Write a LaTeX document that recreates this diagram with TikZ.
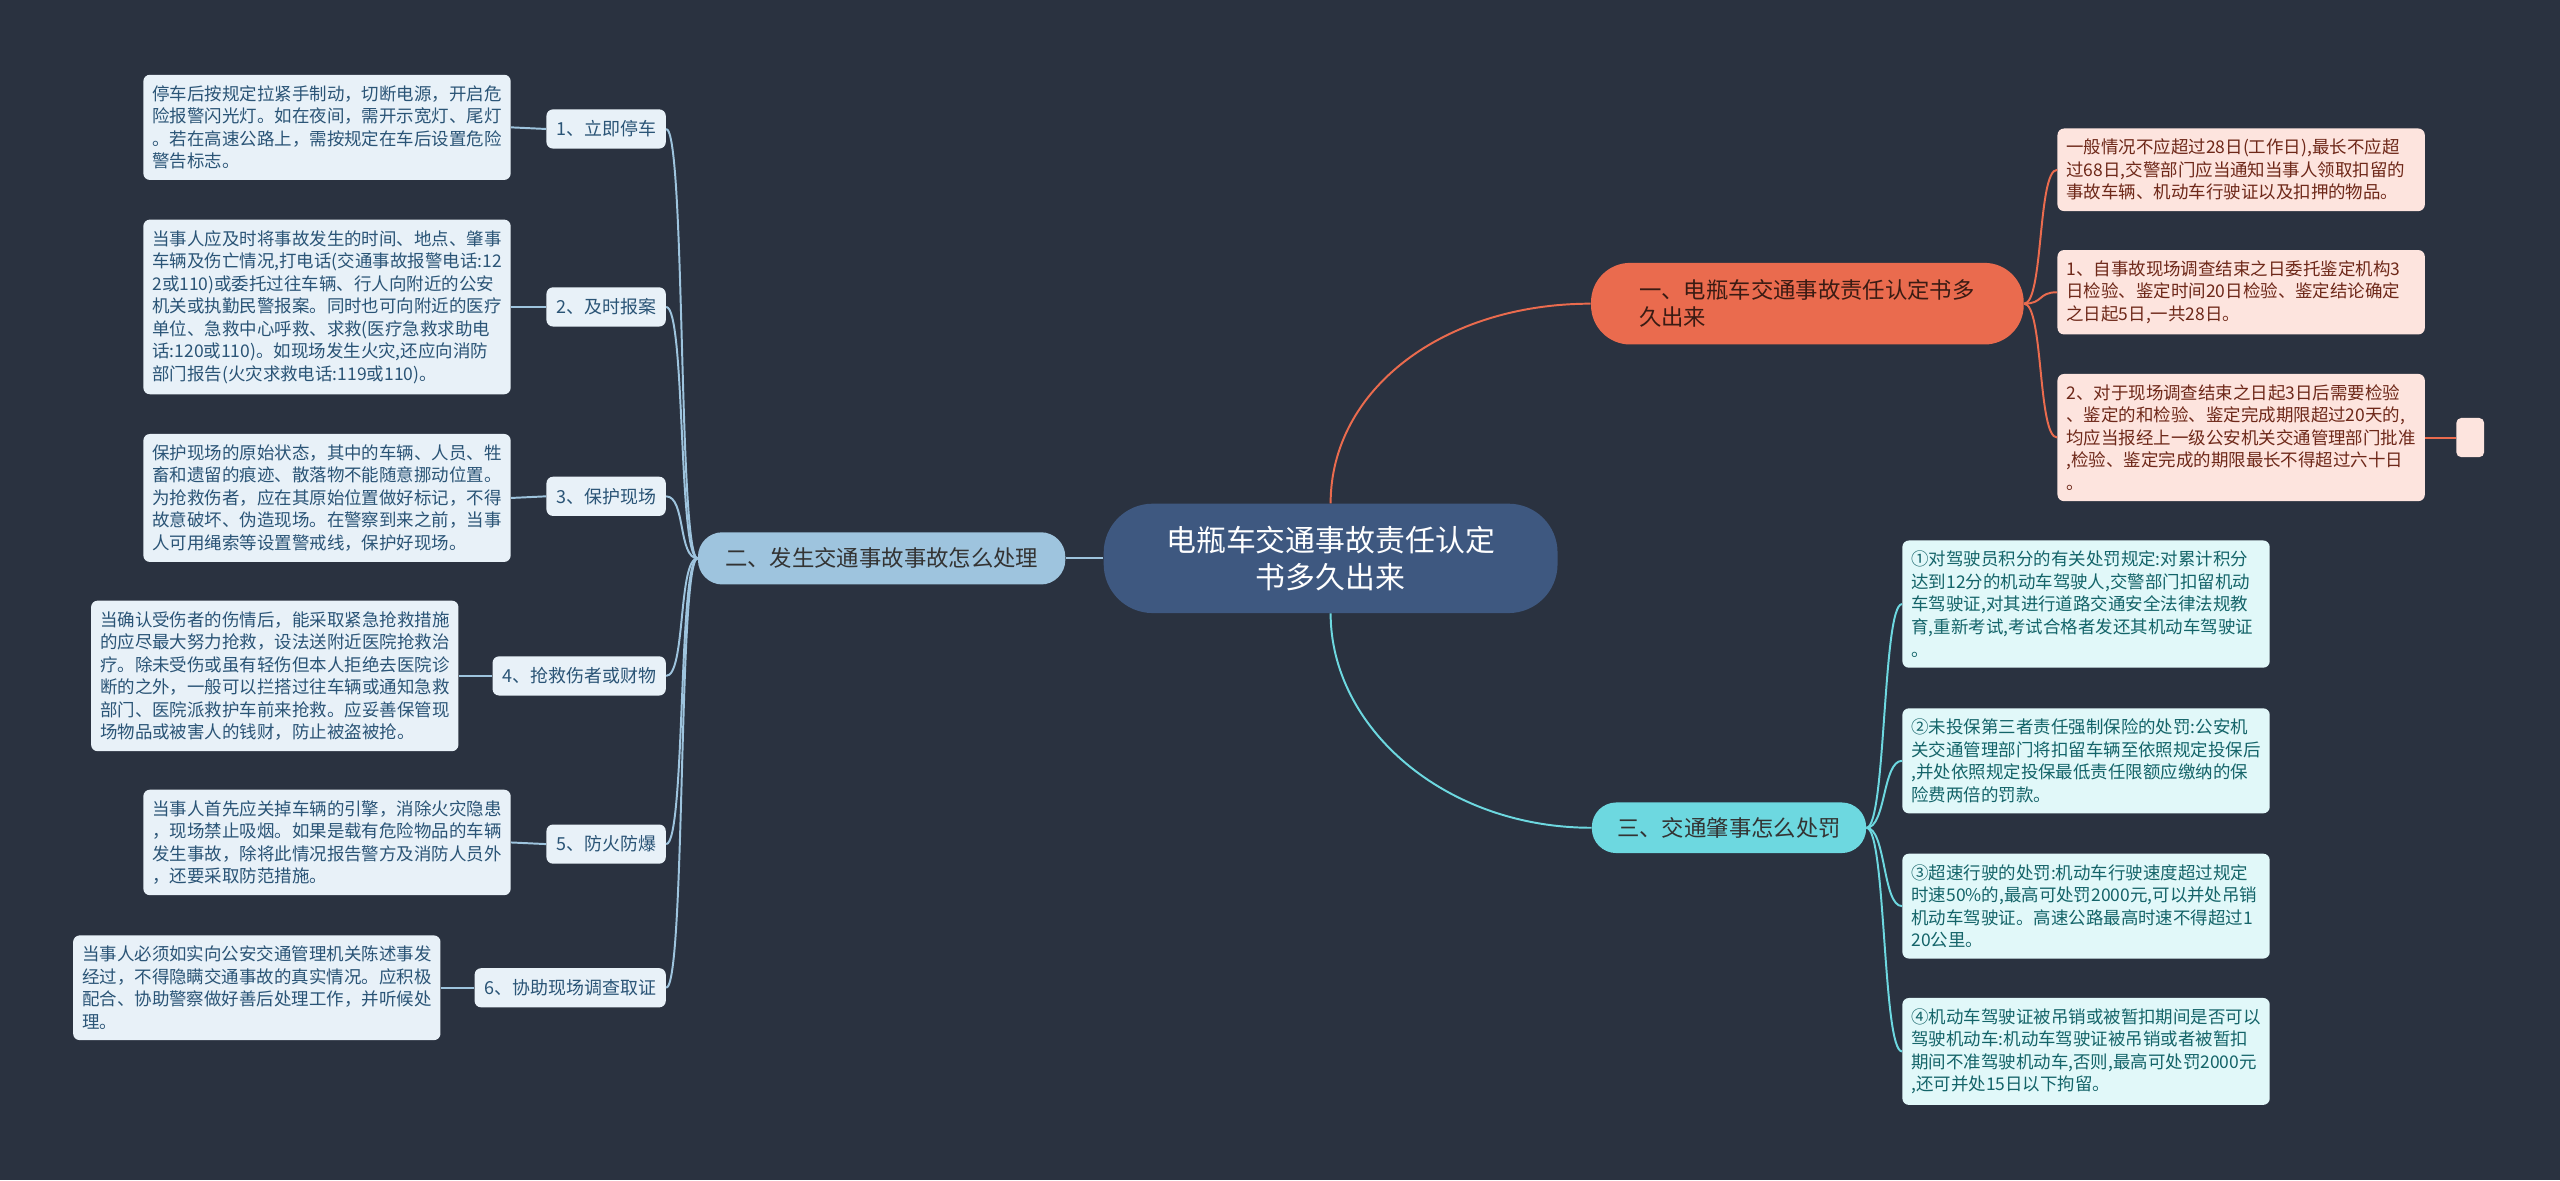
\documentclass[tikz,border=0pt]{standalone}
\usepackage{fontspec}
\setmainfont{Noto Sans CJK SC}
\usepackage{tikz}

\definecolor{bgcol}{HTML}{2A3240}
\definecolor{rootcol}{HTML}{3E5880}
\definecolor{leftcol}{HTML}{9EC4DE}
\definecolor{leftleaf}{HTML}{E8F1F8}
\definecolor{lefttext}{HTML}{2A5476}
\definecolor{redcol}{HTML}{EA6B4E}
\definecolor{redleaf}{HTML}{FDE4DE}
\definecolor{redtext}{HTML}{6E2819}
\definecolor{cyancol}{HTML}{6DD8E0}
\definecolor{cyanleaf}{HTML}{E1F8F9}
\definecolor{cyantext}{HTML}{146469}

\begin{document}
\begin{tikzpicture}[x=1pt,y=-1pt,
    leaf/.style={rounded corners=4pt, align=left, text width=214pt,
        inner xsep=5.5pt, inner ysep=6.5pt, font=\fontsize{10.7}{13.8}\selectfont},
    sub/.style={rounded corners=4pt, fill=leftleaf, text=lefttext,
        inner xsep=6pt, minimum height=24pt, font=\fontsize{11}{13}\selectfont},
    branch/.style={rounded corners=15pt, inner xsep=0pt,
        font=\fontsize{13.7}{16.3}\selectfont},
    link/.style={line width=1.2pt}]

    % Background
    \fill[bgcol] (0,0) rectangle (1568,723);

    % Central topic and main branches
    \node[rounded corners=30pt, fill=rootcol, text=white, align=center,
        minimum width=278pt, minimum height=67pt,
        font=\fontsize{18.3}{22.5}\selectfont] (root) at (815,342)
        {电瓶车交通事故责任认定\\书多久出来};
    \node[branch, fill=leftcol, text=black!80, minimum width=225pt,
        minimum height=32pt] (left) at (540,342) {二、发生交通事故事故怎么处理};
    \node[branch, rounded corners=24pt, fill=redcol, text=black!75!redcol,
        align=left, text width=206pt, inner xsep=29.5pt, minimum height=50pt]
        (b1) at (1107,186) {一、电瓶车交通事故责任认定书多\\久出来};
    \node[branch, fill=cyancol, text=black!80, minimum width=168pt,
        minimum height=31pt] (b3) at (1059,507) {三、交通肇事怎么处罚};

    \draw[link, leftcol] (root.west) -- (left.east);
    \draw[link, redcol] (root.north) .. controls +(0,-70) and +(-90,0) .. (b1.west);
    \draw[link, cyancol] (root.south) .. controls +(0,70) and +(-90,0) .. (b3.west);

    % Left side: steps
    \node[sub, anchor=east] (s1) at (408,79) {1、立即停车};
    \node[sub, anchor=east] (s2) at (408,188) {2、及时报案};
    \node[sub, anchor=east] (s3) at (408,304) {3、保护现场};
    \node[sub, anchor=east] (s4) at (408,414) {4、抢救伤者或财物};
    \node[sub, anchor=east] (s5) at (408,517) {5、防火防爆};
    \node[sub, anchor=east] (s6) at (408,605) {6、协助现场调查取证};

    \node[leaf, fill=leftleaf, text=lefttext, anchor=east] (l1) at (313,78)
        {停车后按规定拉紧手制动，切断电源，开启危\\险报警闪光灯。如在夜间，需开示宽灯、尾灯\\。若在高速公路上，需按规定在车后设置危险\\警告标志。};
    \node[leaf, fill=leftleaf, text=lefttext, anchor=east] (l2) at (313,188)
        {当事人应及时将事故发生的时间、地点、肇事\\车辆及伤亡情况,打电话(交通事故报警电话:12\\2或110)或委托过往车辆、行人向附近的公安\\机关或执勤民警报案。同时也可向附近的医疗\\单位、急救中心呼救、求救(医疗急救求助电\\话:120或110)。如现场发生火灾,还应向消防\\部门报告(火灾求救电话:119或110)。};
    \node[leaf, fill=leftleaf, text=lefttext, anchor=east] (l3) at (313,305)
        {保护现场的原始状态，其中的车辆、人员、牲\\畜和遗留的痕迹、散落物不能随意挪动位置。\\为抢救伤者，应在其原始位置做好标记，不得\\故意破坏、伪造现场。在警察到来之前，当事\\人可用绳索等设置警戒线，保护好现场。};
    \node[leaf, fill=leftleaf, text=lefttext, anchor=east] (l4) at (281,414)
        {当确认受伤者的伤情后，能采取紧急抢救措施\\的应尽最大努力抢救，设法送附近医院抢救治\\疗。除未受伤或虽有轻伤但本人拒绝去医院诊\\断的之外，一般可以拦搭过往车辆或通知急救\\部门、医院派救护车前来抢救。应妥善保管现\\场物品或被害人的钱财，防止被盗被抢。};
    \node[leaf, fill=leftleaf, text=lefttext, anchor=east] (l5) at (313,516)
        {当事人首先应关掉车辆的引擎，消除火灾隐患\\，现场禁止吸烟。如果是载有危险物品的车辆\\发生事故，除将此情况报告警方及消防人员外\\，还要采取防范措施。};
    \node[leaf, fill=leftleaf, text=lefttext, anchor=east] (l6) at (270,605)
        {当事人必须如实向公安交通管理机关陈述事发\\经过，不得隐瞒交通事故的真实情况。应积极\\配合、协助警察做好善后处理工作，并听候处\\理。};

    \foreach \i in {1,...,6} {
        \draw[link, leftcol] (left.west) .. controls +(-12,0) and +(12,0) .. (s\i.east);
        \draw[link, leftcol] (s\i.west) -- (l\i.east);
    }

    % Right side: how long it takes
    \node[leaf, fill=redleaf, text=redtext, anchor=west] (r1) at (1260,104)
        {一般情况不应超过28日(工作日),最长不应超\\过68日,交警部门应当通知当事人领取扣留的\\事故车辆、机动车行驶证以及扣押的物品。};
    \node[leaf, fill=redleaf, text=redtext, anchor=west] (r2) at (1260,179)
        {1、自事故现场调查结束之日委托鉴定机构3\\日检验、鉴定时间20日检验、鉴定结论确定\\之日起5日,一共28日。};
    \node[leaf, fill=redleaf, text=redtext, anchor=west] (r3) at (1260,268)
        {2、对于现场调查结束之日起3日后需要检验\\、鉴定的和检验、鉴定完成期限超过20天的,\\均应当报经上一级公安机关交通管理部门批准\\,检验、鉴定完成的期限最长不得超过六十日\\。};
    \node[rounded corners=3pt, fill=redleaf, minimum width=17pt,
        minimum height=24pt, inner sep=0pt] (dot) at (1513,268) {};

    \foreach \i in {1,2,3}
        \draw[link, redcol] (b1.east) .. controls +(12,0) and +(-12,0) .. (r\i.west);
    \draw[link, redcol] (r3.east) -- (dot.west);

    % Right side: penalties
    \node[leaf, fill=cyanleaf, text=cyantext, anchor=west] (c1) at (1165,370)
        {①对驾驶员积分的有关处罚规定:对累计积分\\达到12分的机动车驾驶人,交警部门扣留机动\\车驾驶证,对其进行道路交通安全法律法规教\\育,重新考试,考试合格者发还其机动车驾驶证\\。};
    \node[leaf, fill=cyanleaf, text=cyantext, anchor=west] (c2) at (1165,466)
        {②未投保第三者责任强制保险的处罚:公安机\\关交通管理部门将扣留车辆至依照规定投保后\\,并处依照规定投保最低责任限额应缴纳的保\\险费两倍的罚款。};
    \node[leaf, fill=cyanleaf, text=cyantext, anchor=west] (c3) at (1165,555)
        {③超速行驶的处罚:机动车行驶速度超过规定\\时速50\%的,最高可处罚2000元,可以并处吊销\\机动车驾驶证。高速公路最高时速不得超过1\\20公里。};
    \node[leaf, fill=cyanleaf, text=cyantext, anchor=west] (c4) at (1165,644)
        {④机动车驾驶证被吊销或被暂扣期间是否可以\\驾驶机动车:机动车驾驶证被吊销或者被暂扣\\期间不准驾驶机动车,否则,最高可处罚2000元\\,还可并处15日以下拘留。};

    \foreach \i in {1,...,4}
        \draw[link, cyancol] (b3.east) .. controls +(12,0) and +(-12,0) .. (c\i.west);

    \useasboundingbox (0,0) rectangle (1568,723);
\end{tikzpicture}
\end{document}
